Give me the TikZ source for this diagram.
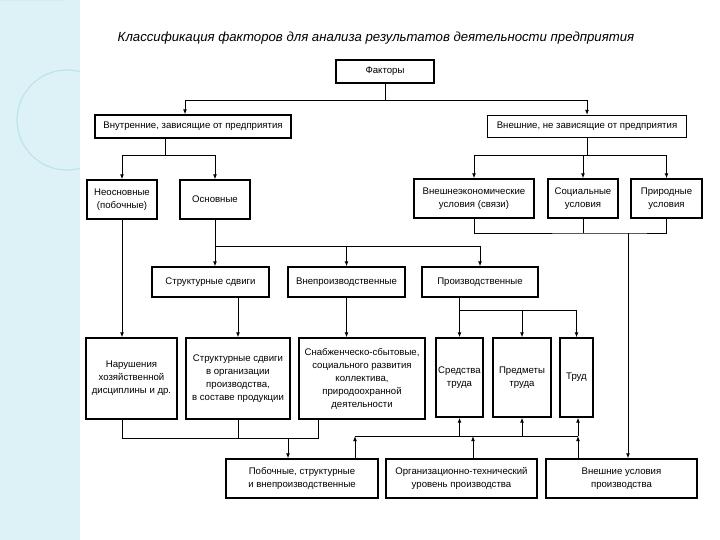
\documentclass[tikz,border=0pt]{standalone}
\usepackage{fontspec}
\setmainfont{Liberation Sans}
\usetikzlibrary{arrows.meta}
\definecolor{stripfill}{RGB}{221,242,246}
\definecolor{stripline}{RGB}{188,228,236}

\begin{document}
\begin{tikzpicture}[
  x = 1pt, y = -1pt,
  box/.style = {draw, line width = 1.2pt, align = center, inner sep = 1pt,
                font = \fontsize{9.6}{13}\selectfont},
  title/.style = {font = \itshape\fontsize{13.2}{15}\selectfont},
  line/.style = {line width = 0.9pt},
  arr/.style = {line width = 0.9pt, -{Latex[length = 5pt, width = 3.8pt]}},
  ]
  \useasboundingbox (0,0) rectangle (720,540);
  \fill[stripfill] (0,0) rectangle (80,540);
  \begin{scope}
    \clip (0,0) rectangle (80,540);
    \draw[stripline, line width = 1pt] (0,0) -- (63,0) arc (0:-90:63 and 62);
    \draw[stripline, line width = 1.2pt] (67,120) circle (50);
  \end{scope}

  \node[title] (ttl) at (376,38)
    {Классификация факторов для анализа результатов деятельности предприятия};

  \node[box, minimum width = 98, minimum height = 23] (fak) at (385,71.5) {Факторы};
  \node[box, minimum width = 196, minimum height = 23] (vnutr) at (193,126.5)
    {Внутренние, зависящие от предприятия};
  \node[box, minimum width = 199, minimum height = 22] (vnesh) at (587,126.5)
    {Внешние, не зависящие от предприятия};

  \node[box, minimum width = 70, minimum height = 39] (neosn) at (122,199.5)
    {Неосновные\\(побочные)};
  \node[box, minimum width = 70, minimum height = 39] (osn) at (215,199.5) {Основные};
  \node[box, minimum width = 120, minimum height = 39] (vneco) at (474,198.5)
    {Внешнеэкономические\\условия (связи)};
  \node[box, minimum width = 70, minimum height = 39] (soc) at (583,198.5)
    {Социальные\\условия};
  \node[box, minimum width = 71, minimum height = 39] (prir) at (666.5,198.5)
    {Природные\\условия};

  \node[box, minimum width = 117, minimum height = 30] (strsd) at (210.5,282)
    {Структурные сдвиги};
  \node[box, minimum width = 117, minimum height = 30] (vneprz) at (346.5,282)
    {Внепроизводственные};
  \node[box, minimum width = 116, minimum height = 30] (proizv) at (480,282)
    {Производственные};

  \node[box, minimum width = 91, minimum height = 81] (narush) at (131.5,378.5)
    {Нарушения\\хозяйственной\\дисциплины и др.};
  \node[box, minimum width = 104, minimum height = 81] (strorg) at (238,378.5)
    {Структурные сдвиги\\в организации\\производства,\\в составе продукции};
  \node[box, minimum width = 126, minimum height = 81] (snab) at (362,378.5)
    {Снабженческо-сбытовые,\\социального развития\\коллектива,\\природоохранной\\деятельности};
  \node[box, minimum width = 47, minimum height = 79] (sredst) at (459.5,377.5)
    {Средства\\труда};
  \node[box, minimum width = 58, minimum height = 79] (predm) at (522,377.5)
    {Предметы\\труда};
  \node[box, minimum width = 33, minimum height = 79] (trud) at (576.5,377.5) {Труд};

  \node[box, minimum width = 152, minimum height = 39] (pob) at (302,478.5)
    {Побочные, структурные\\и внепроизводственные};
  \node[box, minimum width = 151, minimum height = 39] (org) at (461.5,478.5)
    {Организационно-технический\\уровень производства};
  \node[box, minimum width = 151, minimum height = 39] (vnusl) at (621.5,478.5)
    {Внешние условия\\производства};

  \coordinate (jv) at (628,233);
  \coordinate (jl) at (122,438);
  \coordinate (jp) at (288,438);
  \coordinate (jr) at (318,438);
  \coordinate (ja) at (355,436);
  \coordinate (jc) at (473,436);
  \coordinate (jb) at (578,436);

  \draw[line] (fak.south) -- ++(0,17) coordinate (bf);
  \draw[arr] (bf) -| ([xshift=-8pt]vnutr.north);
  \draw[arr] (bf) -| (vnesh.north);

  \draw[line] ([xshift=-28pt]vnutr.south) -- ++(0,17) coordinate (bi);
  \draw[arr] (bi) -| (neosn.north);
  \draw[arr] (bi) -| (osn.north);

  \draw[line] (vnesh.south) -- ++(0,17) coordinate (bv);
  \draw[arr] (bv) -| (vneco.north);
  \draw[arr] (bv) -| (soc.north);
  \draw[arr] (bv) -| (prir.north);

  \draw[line] (vneco.south) |- (jv) -| (prir.south);
  \draw[line] (soc.south) -- (soc.south |- jv);
  \draw[arr] (jv) -- (vnusl.north -| jv);

  \draw[line] (osn.south) -- ++(0,27) coordinate (bo);
  \draw[arr] (osn.south) -- (osn.south |- strsd.north);
  \draw[arr] (bo) -| (vneprz.north);
  \draw[arr] (bo) -| (proizv.north);

  \draw[arr] (proizv.south -| sredst.north) -- (sredst.north);
  \draw[arr] (sredst.north) ++(0,-27) -| (predm.north);
  \draw[arr] (sredst.north) ++(0,-27) -| (trud.north);

  \draw[arr] (neosn.south) -- (neosn.south |- narush.north);
  \draw[arr] (strsd.south -| strorg.north) -- (strorg.north);
  \draw[arr] (vneprz.south) -- (vneprz.south |- snab.north);

  \draw[line] (narush.south -| jl) -- (jl) -- (jr) -- (snab.south -| jr);
  \draw[line] (strorg.south) -- (strorg.south |- jl);
  \draw[arr] (jp) -- (pob.north -| jp);

  \draw[arr] (pob.north -| ja) -- (ja);
  \draw[line] (ja) -- (jb);
  \draw[arr] (sredst.south |- ja) -- (sredst.south);
  \draw[arr] (predm.south |- ja) -- (predm.south);
  \draw[arr] (jb) -- (trud.south -| jb);
  \draw[arr] (org.north -| jc) -- (jc);
  \draw[arr] (vnusl.north -| jb) -- (jb);
\end{tikzpicture}
\end{document}
